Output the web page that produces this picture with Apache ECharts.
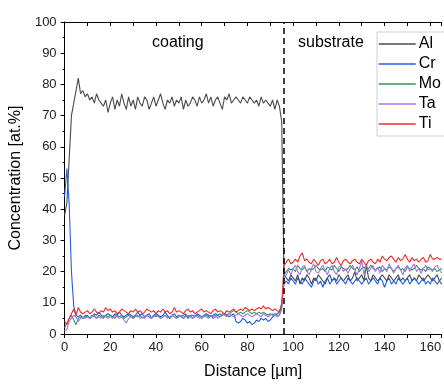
<!DOCTYPE html>
<html>
<head>
<meta charset="utf-8">
<script src="https://cdn.jsdelivr.net/npm/echarts@6/dist/echarts.min.js"></script>
<style>
  html, body { margin: 0; padding: 0; background: #fff; }
  #chart { width: 444px; height: 385px; }
</style>
</head>
<body>
<div id="chart"></div>
<script>
// depth profile, one sample per micrometre (0 .. 165 µm)
const step = 1;
const interfaceAt = 96;

const al = [
  38, 42, 56, 70, 74, 78, 82, 77, 78, 76,
  77, 75, 76, 74, 77, 75, 74, 73, 75, 71,
  74, 76, 72, 75, 73, 77, 74, 72, 76, 73,
  75, 72, 76, 74, 73, 76, 75, 72, 74, 76,
  73, 75, 77, 74, 72, 75, 74, 76, 73, 75,
  74, 76, 72, 75, 73, 74, 76, 75, 73, 76,
  74, 75, 77, 74, 76, 73, 75, 76, 74, 72,
  76, 75, 77, 74, 75, 76, 75, 74, 76, 75,
  74, 76, 75, 74, 75, 73, 76, 74, 75, 74,
  73, 75, 72, 75, 73, 68,
  19, 18, 17, 19,
  18, 17, 19, 16, 18, 17, 19, 18, 16, 18,
  17, 19, 18, 17, 16, 18, 19, 17, 18, 17,
  19, 18, 17, 18, 19, 17, 18, 20, 17, 18,
  19, 17, 22, 18, 17, 19, 18, 17, 18, 19,
  18, 17, 19, 18, 17, 18, 19, 17, 18, 17,
  18, 19, 17, 18, 17, 19, 18, 17, 18, 19,
  18, 17, 18, 19, 17, 16
];

const cr = [
  44, 53, 42, 20, 9, 6, 5.5, 6, 5, 5.5,
  6, 5, 5.5, 6.5, 6, 7, 6, 5.5, 6, 6.5,
  6, 5.5, 6.5, 6, 7, 6, 5.5, 6, 6.5, 6,
  5.5, 6, 7, 6, 6.5, 5.5, 6, 6.5, 5, 6,
  6.5, 6, 5.5, 6, 7, 6, 5, 6, 6.5, 5.5,
  6, 5.5, 6, 6.5, 5, 6, 6, 5.5, 6.5, 6,
  5.5, 6, 6.5, 6, 5.5, 6, 6.5, 6, 5.5, 6,
  6.5, 6, 5.5, 6, 6.5, 4, 3.5, 4, 5, 4.5,
  3.5, 4, 3, 3.5, 4.5, 4, 5, 4.5, 5, 4,
  4.5, 5.5, 6, 6.5, 7, 10,
  16, 17, 16, 18, 17, 16, 18, 17, 16, 18,
  17, 16, 15, 17, 18, 16, 17, 15, 17, 18,
  16, 17, 18, 16, 17, 18, 17, 16, 18, 17,
  16, 17, 18, 17, 16, 17, 18, 16, 17, 18,
  17, 16, 18, 17, 15, 17, 18, 16, 17, 16,
  18, 17, 16, 17, 18, 16, 17, 18, 17, 16,
  17, 18, 16, 17, 16, 18, 17, 16, 17, 18
];

const mo = [
  2, 3.5, 5, 6, 4.5, 3, 5, 5.5, 5, 6,
  5.5, 5, 6, 5.5, 5, 6, 5.5, 5, 6, 5.5,
  6, 5.5, 5, 6, 5.5, 6, 5, 5.5, 6, 5.5,
  5, 6, 5.5, 6, 5, 5.5, 6, 5.5, 5, 6,
  5.5, 6, 5, 5.5, 6, 5.5, 5, 6, 5.5, 5,
  6, 5.5, 5, 6, 5.5, 6, 5, 5.5, 6, 5.5,
  5, 5.5, 6, 5.5, 6, 5, 5.5, 6, 6.5, 6,
  6.5, 6, 6.5, 7, 7.5, 7, 6.5, 7, 6.5, 7,
  7.5, 7, 6.5, 7, 6.5, 7, 6.5, 7, 6.5, 6,
  6.5, 6, 6.5, 6, 6, 8,
  19, 20, 21, 20.5, 21, 20, 22, 21, 20.5, 21.5,
  20, 21, 20.5, 21, 22, 21, 20.5, 21, 20, 21.5,
  21, 20.5, 22, 21, 20, 21.5, 21, 20.5, 21, 22,
  21, 20.5, 21.5, 20, 21, 21.5, 20.5, 21, 22, 21,
  20.5, 21, 21.5, 20, 21, 20.5, 21.5, 21, 20, 21,
  21.5, 20.5, 21, 20, 21.5, 21, 20.5, 21, 22, 21,
  20.5, 21, 20, 21.5, 21, 20.5, 21, 20, 20.5, 21
];

const ta = [
  1, 1.5, 4, 5, 6, 5.5, 4, 5, 5.5, 5,
  5.5, 5, 5.5, 6, 5, 5.5, 5, 6, 5.5, 5,
  5.5, 5, 6, 5.5, 5, 5.5, 4.5, 3.5, 5, 5.5,
  5, 5.5, 6, 5, 5.5, 5, 6, 5.5, 5, 5.5,
  6, 5.5, 5, 5.5, 6, 5, 5.5, 6, 5.5, 5,
  5.5, 6, 5, 5.5, 6, 5.5, 5, 6, 5.5, 5,
  5.5, 6, 5.5, 5, 6, 5.5, 6, 5, 5.5, 6.5,
  6, 5.5, 6.5, 6, 5.5, 6, 6.5, 6, 5.5, 6,
  6.5, 6, 5.5, 6, 6.5, 6, 5.5, 6.5, 6, 5.5,
  6, 6.5, 6, 5.5, 6, 9,
  18, 19, 20.5, 19, 21, 22, 20, 19, 21.5, 22,
  20, 19, 21, 22.5, 20, 19.5, 21, 22, 20.5, 19,
  21, 22, 20, 19, 21.5, 22, 20, 21, 19.5, 21,
  22, 20.5, 19, 21, 23.5, 19, 22.5, 20, 21, 22,
  20, 21.5, 19.5, 22, 21, 20, 22.5, 21, 19.5, 21,
  22, 20.5, 19, 21, 22, 20, 21.5, 22.5, 20, 21,
  19.5, 21, 22, 20.5, 21, 20, 21.5, 22, 20.5, 19.5
];

const ti = [
  4, 3, 5, 6.5, 8, 6, 8.5, 7, 6.5, 7,
  7.5, 6.5, 7, 8, 7, 6.5, 7.5, 7, 8.5, 7.5,
  8, 7, 7.5, 6.5, 7, 8, 7.5, 7, 6.5, 7.5,
  7, 8, 7, 7.5, 6.5, 7, 8, 7.5, 7, 7.5,
  6.5, 7.5, 7, 8, 7, 7.5, 6.5, 7, 8.5, 7,
  7.5, 7, 6.5, 7.5, 8, 7, 7.5, 6.5, 7, 7.5,
  8, 7, 7.5, 7, 6.5, 7.5, 8, 7, 7.5, 7,
  6.5, 7.5, 7, 7.5, 8, 7, 7.5, 8, 7.5, 8.5,
  8, 7.5, 8, 7.5, 8, 8.5, 8, 9, 8, 8.5,
  8, 7.5, 8, 7.5, 7, 9,
  22, 23, 24, 22.5, 23, 24, 23, 25, 26, 23.5,
  24, 23, 22.5, 24, 23, 22, 23.5, 24, 22.5, 23,
  24, 22.5, 23, 24.5, 23, 22, 23.5, 24, 23, 22.5,
  23.5, 24, 23, 22.5, 24, 23, 22, 23.5, 24, 23,
  22.5, 24, 23, 25, 24, 23.5, 24.5, 25, 24, 23,
  24.5, 23.5, 24, 25.5, 24, 23, 24.5, 23.5, 24, 23,
  24, 24.5, 23, 23.5, 25.5, 24, 24, 24.5, 24, 24
];

const names = ['Al', 'Cr', 'Mo', 'Ta', 'Ti'];
const colors = ['#4a4a4a', '#1f5fe0', '#2e9a5a', '#a874e6', '#f02a2a'];
const values = [al, cr, mo, ta, ti];

const FONT = 'Liberation Sans, Arial, sans-serif';
const chart = echarts.init(document.getElementById('chart'));

const series = names.map((n, k) => ({
  name: n,
  type: 'line',
  xAxisIndex: 0,
  symbol: 'none',
  smooth: false,
  lineStyle: { width: 1.1, color: colors[k] },
  itemStyle: { color: colors[k] },
  data: values[k].map((v, i) => [i * step, v]),
  z: 3
}));

// dashed coating / substrate interface
series.push({
  type: 'line',
  data: [],
  markLine: {
    silent: true,
    symbol: 'none',
    label: { show: false },
    lineStyle: { type: [6, 4], color: '#000', width: 1.5 },
    data: [[{ coord: [interfaceAt, 0] }, { coord: [interfaceAt, 100] }]]
  }
});

chart.setOption({
  animation: false,
  textStyle: { fontFamily: FONT },
  grid: { left: 61, top: 22, right: 0, bottom: 49 },
  legend: {
    data: names,
    orient: 'vertical',
    left: 377, top: 32,
    padding: [3, 40, 3, 1],
    itemWidth: 37, itemHeight: 12, itemGap: 2,
    itemStyle: { opacity: 0 },
    lineStyle: { width: 1.5 },
    backgroundColor: '#fff',
    borderColor: '#cfcfcf', borderWidth: 1,
    textStyle: { fontSize: 16, color: '#000', lineHeight: 18, fontFamily: FONT, padding: [0, 0, 0, -2] }
  },
  xAxis: [{
    type: 'value', min: 0, max: 165, interval: 20,
    name: 'Distance [µm]', nameLocation: 'middle', nameGap: 30,
    nameTextStyle: { fontSize: 16, color: '#000', fontFamily: FONT },
    axisLine: { onZero: false, lineStyle: { color: '#000', width: 1 } },
    axisTick: { length: 4, lineStyle: { color: '#000' } },
    minorTick: { show: true, splitNumber: 2, length: 4, lineStyle: { color: '#000' } },
    axisLabel: { fontSize: 13, color: '#222', margin: 7, showMaxLabel: false },
    splitLine: { show: false }
  }, {
    type: 'value', min: 0, max: 165, interval: 20, position: 'top',
    axisLine: { onZero: false, lineStyle: { color: '#000', width: 1 } },
    axisTick: { inside: true, length: 4, lineStyle: { color: '#000' } },
    minorTick: { show: true, splitNumber: 2, length: 4, lineStyle: { color: '#000' } },
    axisLabel: { show: false },
    splitLine: { show: false }
  }],
  yAxis: {
    type: 'value', min: 0, max: 100, interval: 10,
    name: 'Concentration [at.%]', nameLocation: 'middle', nameGap: 32,
    nameTextStyle: { fontSize: 16, color: '#000', fontFamily: FONT },
    axisLine: { show: true, onZero: false, lineStyle: { color: '#000', width: 1 } },
    axisTick: { show: true, length: 4, lineStyle: { color: '#000' } },
    minorTick: { show: true, splitNumber: 2, length: 2, lineStyle: { color: '#000' } },
    axisLabel: { fontSize: 13, color: '#222', margin: 8 },
    splitLine: { show: false }
  },
  graphic: [
    { type: 'text', left: 152, top: 35, style: { text: 'coating', font: '16px ' + FONT, fill: '#000' } },
    { type: 'text', left: 298, top: 35, style: { text: 'substrate', font: '16px ' + FONT, fill: '#000' } }
  ],
  series: series
});
</script>
</body>
</html>
